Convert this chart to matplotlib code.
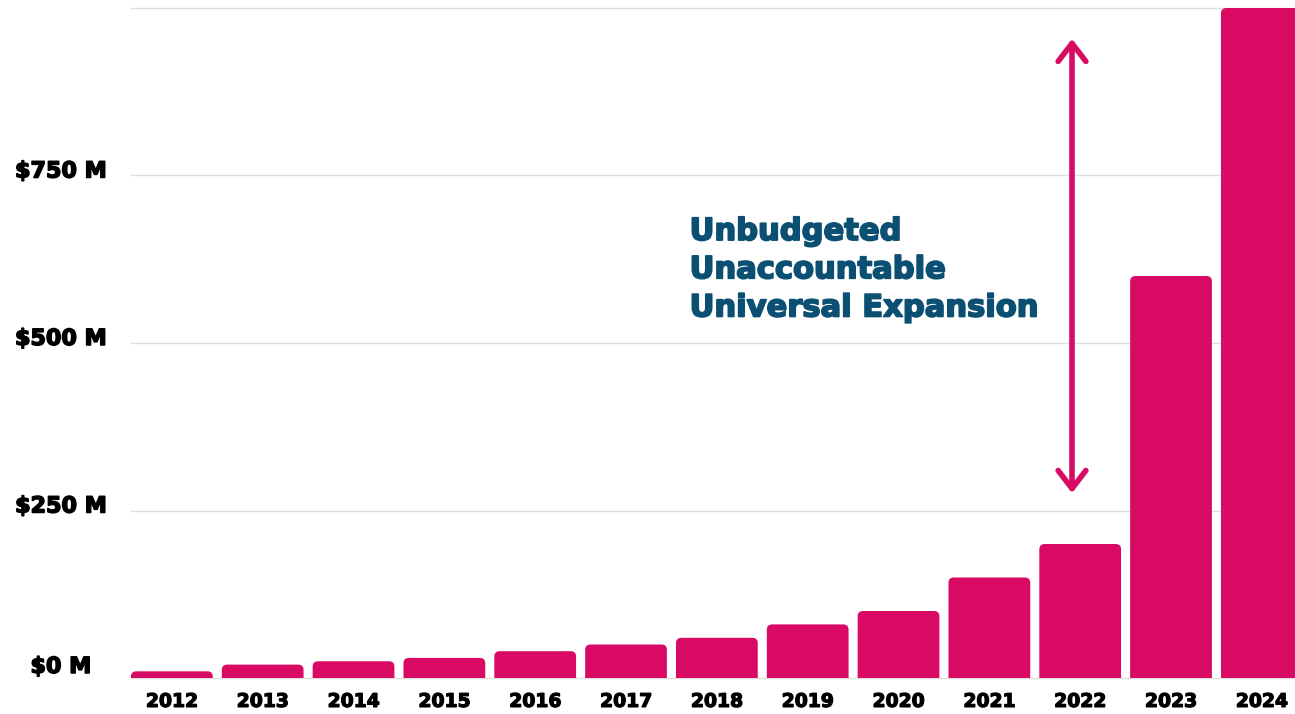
import matplotlib
matplotlib.use("Agg")
import matplotlib.pyplot as plt
import matplotlib.transforms as mtransforms
import matplotlib.patheffects as pe
from matplotlib.patches import FancyBboxPatch

years = ["2012", "2013", "2014", "2015", "2016", "2017", "2018",
         "2019", "2020", "2021", "2022", "2023", "2024"]
spending = [10, 20, 25, 30, 40, 50, 60, 80, 100, 150, 200, 600, 1000]  # $ millions
ytick_vals = [0, 250, 500, 750, 1000]
ytick_labels = ["$0 M", "$250 M", "$500 M", "$750 M", ""]
note_lines = ["Unbudgeted", "Unaccountable", "Universal Expansion"]
arrow_span = (276, 954)  # low / high end of the arrow, $ M

pink = "#d90a64"
navy = "#0b4f72"
font = "DejaVu Sans"


def heavy(color, w=1.1):
    # DejaVu bold is a bit thin next to the original, fatten it with a stroke
    return [pe.withStroke(linewidth=w, foreground=color)]


fig = plt.figure(figsize=(12.95, 7.14), dpi=100)
ax = fig.add_axes([131 / 1295, 36 / 714, 1 - 131 / 1295, 670 / 714])

x = list(range(len(years)))
bars = ax.bar(x, spending, width=0.9, color=pink, zorder=3)

# swap the plain rectangles for ones with rounded top corners
for b in bars:
    bx, by = b.get_x(), b.get_y()
    w, h = b.get_width(), b.get_height()
    b.set_visible(False)
    p = FancyBboxPatch((bx, by - 20), w, h + 20,
                       boxstyle="round,pad=0,rounding_size=0.06",
                       mutation_aspect=130, fc=pink, ec="none", zorder=3)
    ax.add_patch(p)

ax.set_xlim(-0.45, 12.365)
ax.set_ylim(0, 1000)

ax.set_yticks(ytick_vals)
ax.set_yticklabels([])
ax.set_xticks(x)
ax.set_xticklabels(years)
ax.tick_params(axis="y", length=0)
ax.tick_params(axis="x", length=0, pad=10)
for lab in ax.get_xticklabels():
    lab.set_fontsize(13.5)
    lab.set_fontweight("bold")
    lab.set_family(font)
    lab.set_path_effects(heavy("black", 0.9))

# y labels centred in the left margin, sitting a little above their gridline
ylab_tr = mtransforms.blended_transform_factory(fig.transFigure, ax.transData)
for v, s in zip(ytick_vals, ytick_labels):
    up = 11 if v == 0 else 4
    off = mtransforms.ScaledTranslation(0, up / 100, fig.dpi_scale_trans)
    ax.text(61 / 1295, v, s, transform=ylab_tr + off, ha="center",
            va="center", fontsize=16, fontweight="bold", family=font,
            color="black", path_effects=heavy("black"))

ax.grid(axis="y", color="#dedede", linewidth=1, zorder=0)
for ln in ax.get_ygridlines():
    ln.set_clip_on(False)
for s in ax.spines.values():
    s.set_visible(False)

ax.text(5.70, 688, "\n".join(note_lines), color=navy, fontsize=22,
        fontweight="bold", family=font, va="top", ha="left",
        linespacing=1.4, path_effects=heavy(navy, 1.3))

ax.annotate("", xy=(9.91, arrow_span[1]), xytext=(9.91, arrow_span[0]),
            arrowprops=dict(arrowstyle="<->,head_length=13,head_width=10",
                            mutation_scale=1, color=pink, lw=4,
                            capstyle="round", joinstyle="round",
                            shrinkA=0, shrinkB=0),
            zorder=4)

fig.savefig("out.png", dpi=100)
